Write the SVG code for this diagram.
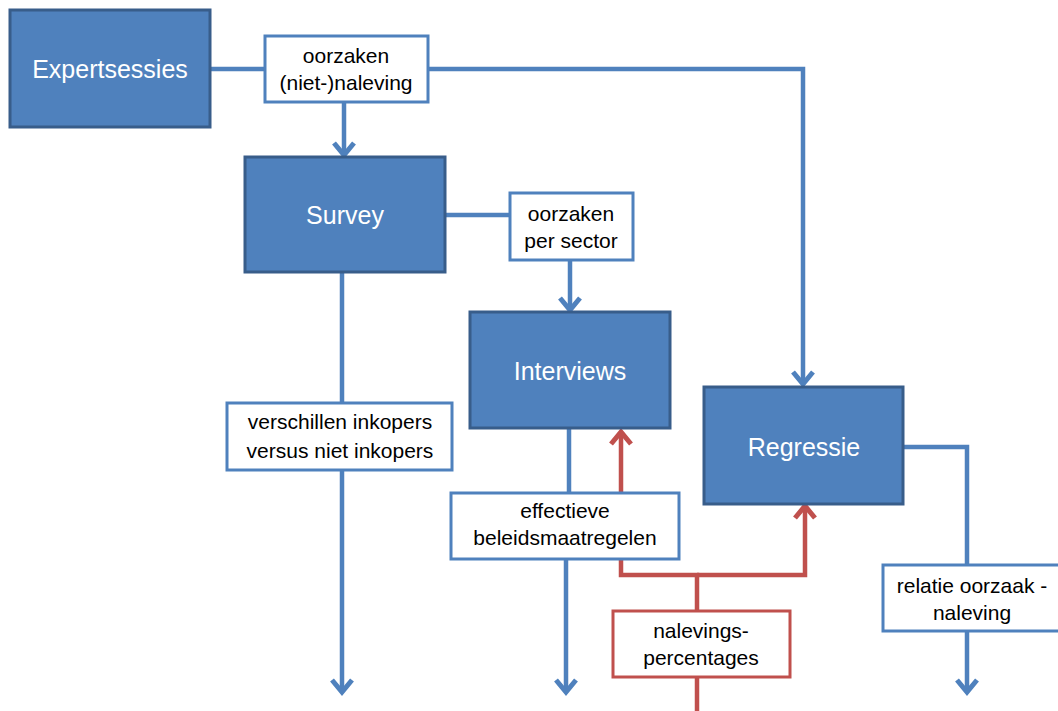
<svg xmlns="http://www.w3.org/2000/svg" width="1058" height="711" viewBox="0 0 1058 711">
<style>
.node{fill:#4F81BD;stroke:#385D8A;stroke-width:3}
.nt{font-family:"Liberation Sans",Arial,sans-serif;font-size:25px;fill:#fff;text-anchor:middle}
.lab{fill:#fff;stroke:#4F81BD;stroke-width:3}
.labr{fill:#fff;stroke:#C0504D;stroke-width:3}
.lt{font-family:"Liberation Sans",Arial,sans-serif;font-size:21px;fill:#000;text-anchor:middle}
.cb{fill:none;stroke:#4F81BD;stroke-width:4.5}
.cr{fill:none;stroke:#C0504D;stroke-width:4.5}
</style>
<defs>
<marker id="ab" markerUnits="userSpaceOnUse" markerWidth="26" markerHeight="26" viewBox="0 0 26 26" refX="20" refY="13" orient="auto" overflow="visible">
<path d="M8,3 L20,13 L8,23" fill="none" stroke="#4F81BD" stroke-width="5"/>
</marker>
<marker id="ar" markerUnits="userSpaceOnUse" markerWidth="26" markerHeight="26" viewBox="0 0 26 26" refX="20" refY="13" orient="auto" overflow="visible">
<path d="M8,3 L20,13 L8,23" fill="none" stroke="#C0504D" stroke-width="5"/>
</marker>
</defs>
<rect width="1058" height="711" fill="#fff"/>
<g id="connectors">
<path class="cb" d="M210,69 H265"/>
<path class="cb" d="M428,69 H803 V384" marker-end="url(#ab)"/>
<path class="cb" d="M344,102 V155" marker-end="url(#ab)"/>
<path class="cb" d="M445,215 H510"/>
<path class="cb" d="M570,260 V310" marker-end="url(#ab)"/>
<path class="cb" d="M342,273 V403"/>
<path class="cb" d="M342,470 V692" marker-end="url(#ab)"/>
<path class="cb" d="M569,428 V493"/>
<path class="cb" d="M566,559 V692" marker-end="url(#ab)"/>
<path class="cb" d="M903,447 H967 V565"/>
<path class="cb" d="M967,631 V692" marker-end="url(#ab)"/>
<path class="cr" d="M697,711 V677"/>
<path class="cr" d="M697,611 V575 H621 V432" marker-end="url(#ar)"/>
<path class="cr" d="M697,575 H805 V506" marker-end="url(#ar)"/>
</g>
<g id="expertsessies">
<rect class="node" x="10" y="10" width="200" height="117"/>
<text class="nt" x="110" y="78">Expertsessies</text>
</g>
<g id="survey">
<rect class="node" x="245" y="157" width="200" height="115"/>
<text class="nt" x="345" y="224">Survey</text>
</g>
<g id="interviews">
<rect class="node" x="470" y="312" width="200" height="116"/>
<text class="nt" x="570" y="380">Interviews</text>
</g>
<g id="regressie">
<rect class="node" x="704" y="387" width="199" height="117"/>
<text class="nt" x="804" y="456">Regressie</text>
</g>
<g id="label-oorzaken-naleving">
<rect class="lab" x="265" y="36" width="163" height="66"/>
<text class="lt" x="346" y="63">oorzaken</text>
<text class="lt" x="346" y="90">(niet-)naleving</text>
</g>
<g id="label-oorzaken-sector">
<rect class="lab" x="510" y="193" width="123" height="67"/>
<text class="lt" x="571" y="221">oorzaken</text>
<text class="lt" x="571" y="248">per sector</text>
</g>
<g id="label-verschillen">
<rect class="lab" x="227" y="403" width="225" height="67"/>
<text class="lt" x="340" y="429">verschillen inkopers</text>
<text class="lt" x="340" y="458">versus niet inkopers</text>
</g>
<g id="label-effectieve">
<rect class="lab" x="451" y="493" width="228" height="66"/>
<text class="lt" x="565" y="518">effectieve</text>
<text class="lt" x="565" y="545">beleidsmaatregelen</text>
</g>
<g id="label-nalevings">
<rect class="labr" x="613" y="611" width="177" height="66"/>
<text class="lt" x="701" y="638">nalevings-</text>
<text class="lt" x="701" y="665">percentages</text>
</g>
<g id="label-relatie">
<rect class="lab" x="883" y="565" width="185" height="66"/>
<text class="lt" x="972" y="593">relatie oorzaak -</text>
<text class="lt" x="972" y="620">naleving</text>
</g>
</svg>
